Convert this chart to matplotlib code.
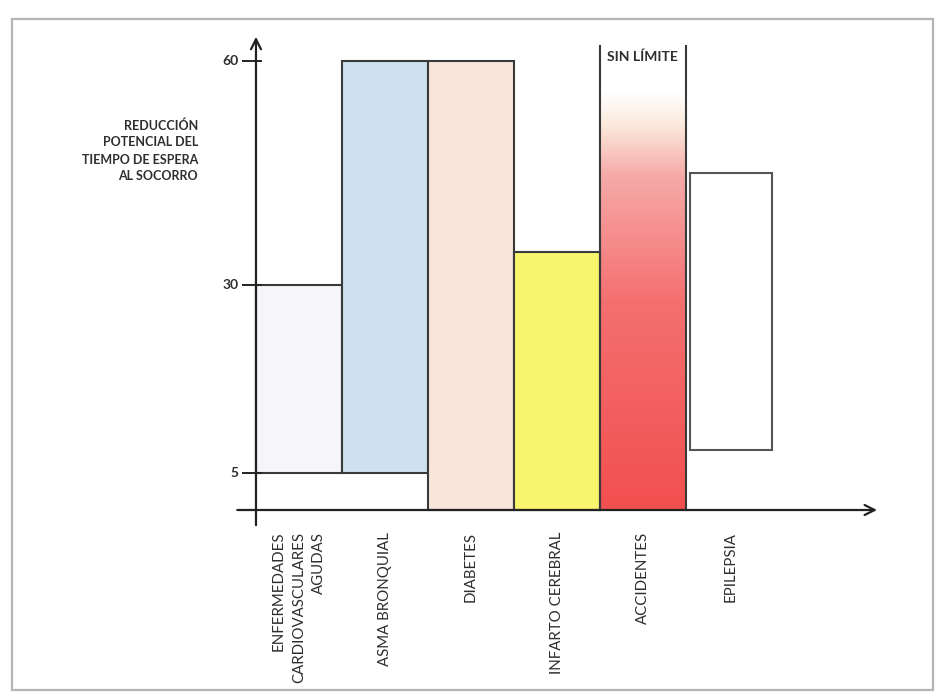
import numpy as np
import matplotlib.pyplot as plt
from matplotlib.colors import LinearSegmentedColormap
from matplotlib.patches import Rectangle

plt.rcParams['font.family'] = ['Lato', 'DejaVu Sans']

categories = ['ENFERMEDADES\nCARDIOVASCULARES\nAGUDAS', 'ASMA BRONQUIAL', 'DIABETES',
              'INFARTO CEREBRAL', 'ACCIDENTES', 'EPILEPSIA']
low = [5, 5, 0, 0, 0, 8]
high = [30, 60, 60, 34.5, np.inf, 45]   # inf = "sin límite"
y_ticks = [5, 30, 60]
y_label = 'REDUCCIÓN\nPOTENCIAL DEL\nTIEMPO DE ESPERA\nAL SOCORRO'
open_label = 'SIN LÍMITE'

fills = ['#f5f5fa', '#cde2ee', '#f8e5dc', '#f8f46e', None, 'white']
edge = '#3a3a3a'
text_color = '#2e2e2e'

fig = plt.figure(figsize=(9.38, 6.98), dpi=100)
ax = fig.add_axes([0.25, 0.2436, 0.688, 0.7077])
ax.axis('off')

# frame of the scanned page
fig.patches.append(Rectangle((12 / 938, 8 / 698), 921 / 938, 671 / 698,
                             transform=fig.transFigure, fill=False,
                             edgecolor='#b5b5b5', lw=1.6))

lefts = [0, 1, 2, 3, 4, 5.05]
widths = [1, 1, 1, 1, 1, 0.95]
top_open = 62

for i, cat in enumerate(categories):
    if np.isinf(high[i]):
        cmap = LinearSegmentedColormap.from_list('acc', [
            (0.0, '#f24f4f'), (0.45, '#f47070'), (0.72, '#f6aaa8'),
            (0.83, '#fbeadc'), (0.9, '#ffffff'), (1.0, '#ffffff')])
        grad = np.linspace(0, 1, 256).reshape(-1, 1)
        ax.imshow(grad, extent=[lefts[i], lefts[i] + widths[i], low[i], top_open],
                  origin='lower', aspect='auto', cmap=cmap, zorder=1)
        ax.plot([lefts[i], lefts[i]], [low[i], top_open], color=edge, lw=1.5, zorder=3)
        ax.plot([lefts[i] + widths[i]] * 2, [low[i], top_open], color=edge, lw=1.5, zorder=3)
        ax.text(lefts[i] + widths[i] / 2, top_open - 0.6, open_label, ha='center', va='top',
                fontsize=10, fontweight='bold', color=text_color, zorder=4)
    else:
        ec = '#555555' if fills[i] == 'white' else edge
        ax.bar(lefts[i], high[i] - low[i], bottom=low[i], width=widths[i], align='edge',
               color=fills[i], edgecolor=ec, lw=1.5, zorder=2)
    ax.text(lefts[i] + widths[i] / 2, -2.9, cat, rotation=90, ha='center', va='top',
            multialignment='right', fontsize=10.8, color=text_color, linespacing=1.55)

# axes with arrows
ax.annotate('', xy=(0, 63.6), xytext=(0, -2.4),
            arrowprops=dict(arrowstyle='->', color='#222222', lw=1.6, mutation_scale=18))
ax.annotate('', xy=(7.26, 0), xytext=(-0.25, 0),
            arrowprops=dict(arrowstyle='->', color='#222222', lw=1.6, mutation_scale=18))

for t in y_ticks:
    ax.plot([-0.15, 0.06], [t, t], color='#222222', lw=1.4, zorder=3)
    ax.text(-0.2, t, str(t), ha='right', va='center', fontsize=10,
            fontweight='bold', color=text_color)

fig.text(198 / 938, 1 - 119 / 698, y_label, ha='right', va='top', fontsize=9,
         fontweight='bold', color=text_color, linespacing=1.5)

ax.set_xlim(-0.25, 7.26)
ax.set_ylim(-2.4, 63.6)

fig.savefig('out.png', dpi=100, facecolor='white')
